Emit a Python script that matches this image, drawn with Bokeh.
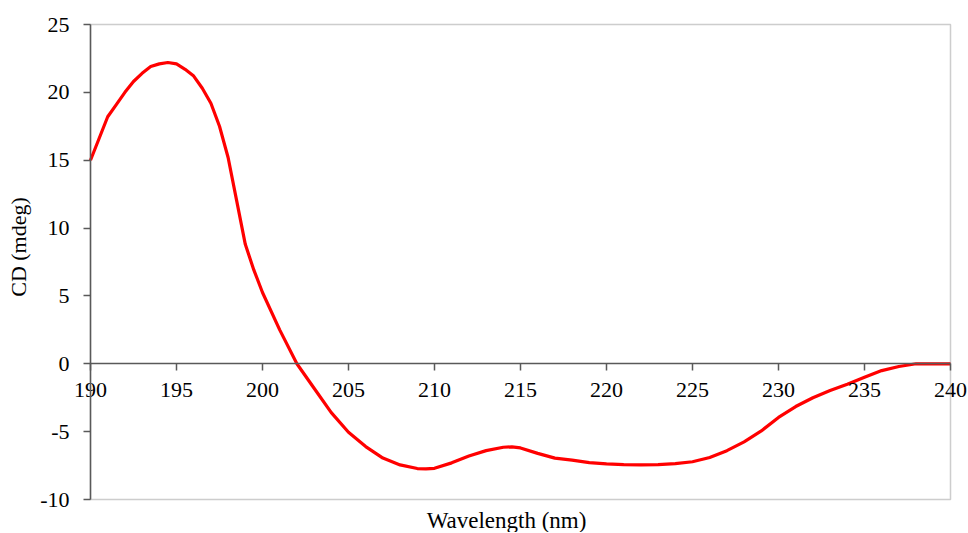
from bokeh.plotting import figure
from bokeh.models import LinearAxis, FixedTicker, Range1d, BoxAnnotation, PrintfTickFormatter
from bokeh.embed import file_html
from bokeh.resources import INLINE

# Wavelength (nm) and CD signal (mdeg)
wavelength = [190, 190.5, 191, 191.5, 192, 192.5, 193, 193.5, 194, 194.5, 195, 195.5, 196,
              196.5, 197, 197.5, 198, 198.5, 199, 199.5, 200, 201, 202, 203, 204, 205,
              206, 207, 208, 209, 209.5, 210, 211, 212, 213, 214, 214.5, 215, 216, 217,
              218, 219, 220, 221, 222, 223, 224, 225, 226, 227, 228, 229, 230, 231, 232,
              233, 234, 235, 236, 237, 238, 239, 240]
cd_mdeg = [15.0, 16.6, 18.2, 19.1, 20.0, 20.8, 21.4, 21.9, 22.1, 22.2, 22.1, 21.7, 21.2,
           20.3, 19.2, 17.5, 15.2, 12.0, 8.8, 6.9, 5.25, 2.5, 0.0, -1.8, -3.6, -5.05,
           -6.1, -6.95, -7.45, -7.72, -7.75, -7.7, -7.3, -6.8, -6.4, -6.15, -6.12, -6.2, -6.6, -6.95,
           -7.1, -7.28, -7.38, -7.43, -7.45, -7.43, -7.35, -7.22, -6.9, -6.4, -5.75, -4.95, -3.95, -3.15, -2.5,
           -1.97, -1.5, -1.0, -0.5, -0.2, 0.0, 0.0, 0.0]

x_ticks = [190, 195, 200, 205, 210, 215, 220, 225, 230, 235, 240]
y_ticks = [-10, -5, 0, 5, 10, 15, 20, 25]
x_lim = (190, 240)
y_lim = (-10, 25)

FONT = "Liberation Serif"
AXIS_COLOR = "#595959"

# Layout (pixels): the data box sits at these canvas positions; the frame
# covers the whole canvas so that edge tick labels are not clipped.
W, H = 968, 532
BOX_L, BOX_R, BOX_T, BOX_B = 90, 950, 24, 499
sx = (BOX_R - BOX_L) / (x_lim[1] - x_lim[0])
sy = (BOX_B - BOX_T) / (y_lim[1] - y_lim[0])
x_range = Range1d(x_lim[0] - BOX_L / sx, x_lim[1] + (W - BOX_R) / sx)
y_range = Range1d(y_lim[0] - (H - BOX_B) / sy, y_lim[1] + BOX_T / sy)

p = figure(width=W, height=H, output_backend="svg", toolbar_location=None,
           x_range=x_range, y_range=y_range,
           x_axis_location=None, y_axis_location=None, min_border=0)
p.grid.visible = False
p.outline_line_color = None
p.background_fill_color = "white"
p.border_fill_color = "white"

p.line(wavelength, cd_mdeg, line_color="#ff0000", line_width=3.2)

# plot-area frame
p.add_layout(BoxAnnotation(left=x_lim[0], right=x_lim[1], bottom=y_lim[0], top=y_lim[1],
                           fill_alpha=0, line_color=AXIS_COLOR, line_width=1.5))

# y axis with ticks and labels
yaxis = LinearAxis(ticker=FixedTicker(ticks=y_ticks), fixed_location=x_lim[0], bounds=y_lim,
                   formatter=PrintfTickFormatter(format="%d"))
yaxis.axis_line_color = AXIS_COLOR
yaxis.axis_line_width = 1.5
yaxis.major_tick_line_color = AXIS_COLOR
yaxis.major_tick_line_width = 1.5
yaxis.major_tick_out = 7
yaxis.major_tick_in = 0
yaxis.minor_tick_line_color = None
yaxis.major_label_standoff = 14
yaxis.major_label_text_font = FONT
yaxis.major_label_text_font_size = "22px"
yaxis.major_label_text_color = "black"
p.add_layout(yaxis, "left")

# y axis title
ytitle = LinearAxis(ticker=FixedTicker(ticks=[]), fixed_location=x_lim[0], bounds=(-7.8, 25),
                    axis_label="CD (mdeg)")
ytitle.axis_line_color = None
ytitle.major_tick_line_color = None
ytitle.minor_tick_line_color = None
ytitle.major_tick_out = 0
ytitle.major_tick_in = 0
ytitle.axis_label_text_font = FONT
ytitle.axis_label_text_font_size = "22px"
ytitle.axis_label_text_font_style = "normal"
ytitle.axis_label_text_color = "black"
ytitle.axis_label_standoff = 60
p.add_layout(ytitle, "left")

# x axis drawn along CD = 0
xaxis = LinearAxis(ticker=FixedTicker(ticks=x_ticks), fixed_location=0, bounds=x_lim)
xaxis.axis_line_color = AXIS_COLOR
xaxis.axis_line_width = 1.5
xaxis.major_tick_line_color = AXIS_COLOR
xaxis.major_tick_line_width = 1.5
xaxis.major_tick_out = 7
xaxis.major_tick_in = 0
xaxis.minor_tick_line_color = None
xaxis.major_label_standoff = 12
xaxis.major_label_text_font = FONT
xaxis.major_label_text_font_size = "22px"
xaxis.major_label_text_color = "black"
p.add_layout(xaxis, "below")

# x axis title below the box
xtitle = LinearAxis(ticker=FixedTicker(ticks=[]), fixed_location=y_lim[0], bounds=(188.4, 240),
                    axis_label="Wavelength (nm)")
xtitle.axis_line_color = None
xtitle.major_tick_line_color = None
xtitle.minor_tick_line_color = None
xtitle.major_tick_out = 0
xtitle.major_tick_in = 0
xtitle.axis_label_text_font = FONT
xtitle.axis_label_text_font_size = "23px"
xtitle.axis_label_text_font_style = "normal"
xtitle.axis_label_text_color = "black"
xtitle.axis_label_standoff = 8
p.add_layout(xtitle, "below")

open("out.html", "w").write(file_html(p, INLINE))
